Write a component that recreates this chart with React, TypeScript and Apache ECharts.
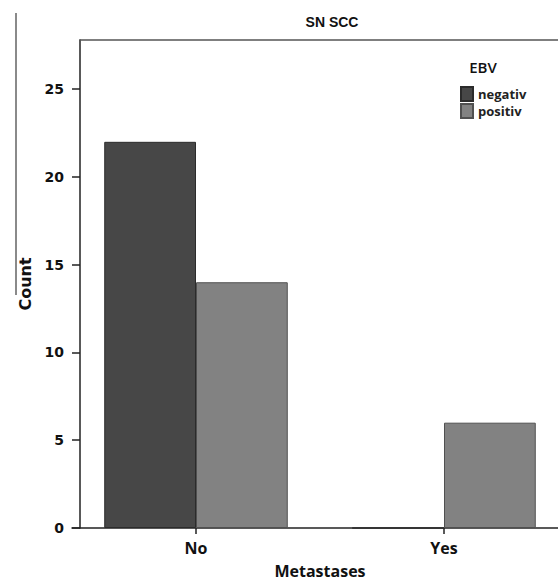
import React, { useEffect, useRef } from "react";
import * as echarts from "echarts";

const categories = ["No", "Yes"];
const negativValues = [22, 0];
const positivValues = [14, 6];
const yTickValues = [0, 5, 10, 15, 20, 25];
const yMax = 27.8;
const chartTitle = "SN SCC";
const legendTitle = "EBV";
const seriesNames = ["negativ", "positiv"];

export default function App() {
  const ref = useRef<HTMLDivElement>(null);
  useEffect(() => {
    if (!ref.current) return;
    const chart = echarts.init(ref.current, null, { renderer: "svg" });
    const axisColor = "#222";
    chart.setOption({
      animation: false,
      backgroundColor: "#fff",
      graphic: [
        {
          type: "line",
          shape: { x1: 16, y1: 13, x2: 16, y2: 295 },
          style: { stroke: "#8a8a8a", lineWidth: 2 },
        },
        {
          type: "text",
          x: 332,
          y: 22,
          style: {
            text: chartTitle,
            fontFamily: "Liberation Sans",
            fontWeight: "bold",
            fontSize: 14,
            fill: "#111",
            align: "center",
            verticalAlign: "middle",
          },
        },
        {
          type: "text",
          x: 483,
          y: 67,
          style: {
            text: legendTitle,
            fontFamily: "Open Sans",
            fontWeight: 600,
            fontSize: 15,
            fill: "#111",
            align: "center",
            verticalAlign: "middle",
          },
        },
      ],
      legend: {
        data: seriesNames,
        orient: "vertical",
        left: 460,
        top: 86,
        padding: 0,
        itemWidth: 12,
        itemHeight: 14,
        itemGap: 1,
        icon: "rect",
        textStyle: {
          fontFamily: "Open Sans",
          fontWeight: "bold",
          fontSize: 13,
          lineHeight: 14,
          color: "#222",
        },
      },
      grid: [
        { left: 72, top: 40, width: 496, bottom: 53, outerBoundsMode: "none", containLabel: false },
        { left: 80, top: 40, width: 540, bottom: 53, outerBoundsMode: "none", containLabel: false },
      ],
      xAxis: [
        {
          type: "category",
          gridIndex: 0,
          data: categories,
          name: "Metastases",
          nameLocation: "middle",
          nameGap: 35,
          nameTextStyle: {
            fontFamily: "Open Sans",
            fontWeight: "bold",
            fontSize: 16,
            color: "#111",
          },
          axisLine: { show: true, lineStyle: { color: axisColor, width: 1.5 } },
          axisTick: {
            show: true,
            alignWithLabel: true,
            length: 6,
            lineStyle: { color: axisColor, width: 1.5 },
          },
          axisLabel: {
            margin: 12,
            fontFamily: "Open Sans",
            fontWeight: "bold",
            fontSize: 16,
            color: "#111",
          },
          splitLine: { show: false },
        },
        {
          type: "value",
          gridIndex: 1,
          position: "top",
          min: 0,
          max: 1,
          axisLine: { show: true, onZero: false, lineStyle: { color: "#555", width: 1.5 } },
          axisTick: { show: false },
          axisLabel: { show: false },
          splitLine: { show: false },
        },
      ],
      yAxis: [
        { type: "value", gridIndex: 0, min: 0, max: yMax, show: false },
        {
          type: "value",
          gridIndex: 1,
          min: 0,
          max: yMax,
          interval: 5,
          name: "Count",
          nameLocation: "middle",
          nameGap: 47,
          nameTextStyle: {
            fontFamily: "DejaVu Sans",
            fontWeight: "bold",
            fontSize: 16,
            color: "#111",
          },
          axisLine: { show: true, onZero: false, lineStyle: { color: axisColor, width: 1.5 } },
          axisTick: {
            show: true,
            length: 8,
            customValues: yTickValues,
            lineStyle: { color: axisColor, width: 1.5 },
          },
          axisLabel: {
            margin: 16,
            customValues: yTickValues,
            fontFamily: "DejaVu Sans",
            fontWeight: "bold",
            fontSize: 14,
            color: "#111",
          },
          splitLine: { show: false },
        },
      ],
      series: [
        {
          name: seriesNames[0],
          type: "bar",
          xAxisIndex: 0,
          yAxisIndex: 0,
          data: negativValues,
          barGap: "0%",
          barCategoryGap: "26%",
          itemStyle: { color: "#474747", borderColor: "#2b2b2b", borderWidth: 1 },
        },
        {
          name: seriesNames[1],
          type: "bar",
          xAxisIndex: 0,
          yAxisIndex: 0,
          data: positivValues,
          barGap: "0%",
          barCategoryGap: "26%",
          itemStyle: { color: "#828282", borderColor: "#505050", borderWidth: 1 },
        },
      ],
    });
    return () => chart.dispose();
  }, []);
  return (
    <div
      ref={ref}
      style={{ position: "absolute", left: 0, top: 0, width: 558, height: 581 }}
    />
  );
}
